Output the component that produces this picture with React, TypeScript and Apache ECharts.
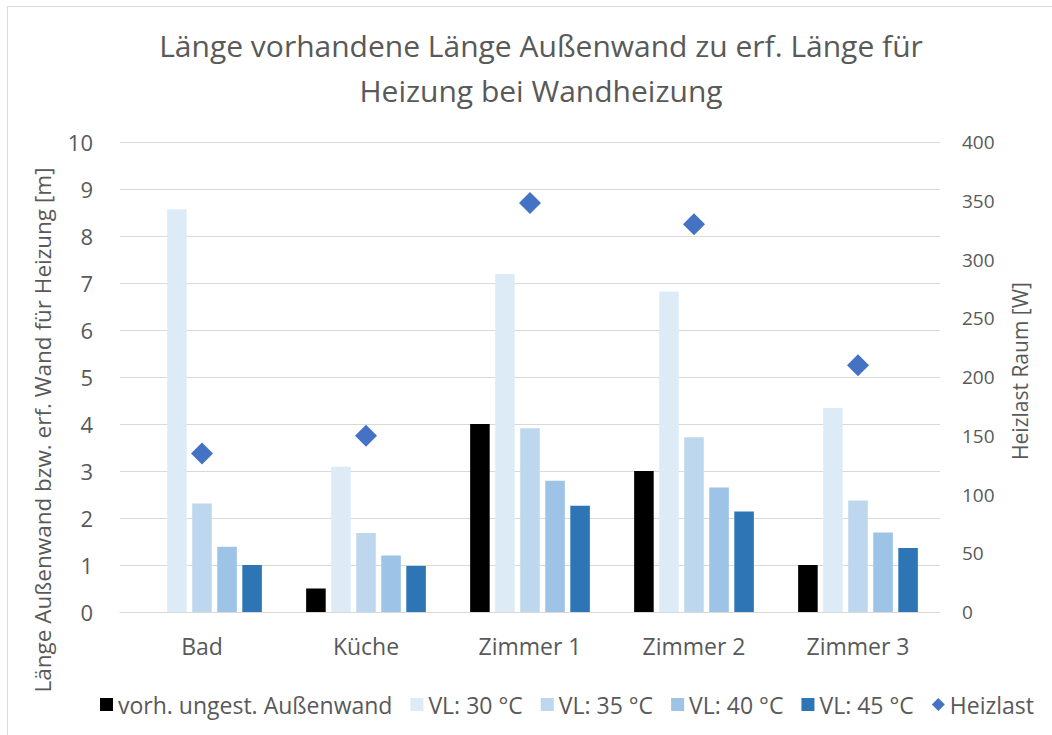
import React, { useEffect, useRef } from "react";
import * as echarts from "echarts";

const categories = ["Bad", "Küche", "Zimmer 1", "Zimmer 2", "Zimmer 3"];
const vorhAussenwand = [0, 0.5, 4, 3, 1];
const vl30 = [8.57, 3.09, 7.19, 6.82, 4.34];
const vl35 = [2.31, 1.68, 3.91, 3.72, 2.37];
const vl40 = [1.39, 1.2, 2.79, 2.65, 1.69];
const vl45 = [1.0, 0.98, 2.26, 2.14, 1.36];
const heizlast = [135, 150, 348, 330, 210];
const leftTicks = { min: 0, max: 10, interval: 1 };
const rightTicks = { min: 0, max: 400, interval: 50 };

const FONT = "Open Sans";
const GREY = "#595959";

export default function App() {
  const ref = useRef<HTMLDivElement>(null);
  useEffect(() => {
    if (!ref.current) return;
    const chart = echarts.init(ref.current, undefined, { renderer: "svg" });
    const barNames = [
      "vorh. ungest. Außenwand",
      "VL: 30 °C",
      "VL: 35 °C",
      "VL: 40 °C",
      "VL: 45 °C",
    ];
    const barData = [vorhAussenwand, vl30, vl35, vl40, vl45];
    const barColors = ["#000000", "#DDEBF7", "#BDD7EE", "#9DC3E6", "#2E75B6"];
    chart.setOption({
      animation: false,
      backgroundColor: "#ffffff",
      textStyle: { fontFamily: FONT, color: GREY },
      title: {
        text: "Länge vorhandene Länge Außenwand zu erf. Länge für\nHeizung bei Wandheizung",
        left: 536,
        textAlign: "center",
        top: 18,
        textStyle: {
          fontFamily: FONT,
          fontSize: 30,
          fontWeight: "normal",
          color: GREY,
          lineHeight: 45,
        },
      },
      grid: { left: 120, right: 112, top: 142, bottom: 123, containLabel: false },
      legend: {
        bottom: 14,
        left: 95,
        itemWidth: 13,
        itemHeight: 13,
        itemGap: 18,
        textStyle: { fontFamily: FONT, fontSize: 23, color: GREY },
        data: [
          ...barNames.map((n) => ({ name: n, icon: "rect" })),
          { name: "Heizlast", icon: "diamond" },
        ],
      },
      xAxis: {
        type: "category",
        data: categories,
        axisTick: { show: false },
        axisLine: { lineStyle: { color: "#D9D9D9", width: 1 } },
        axisLabel: { fontFamily: FONT, fontSize: 23, color: GREY, margin: 22 },
      },
      yAxis: [
        {
          type: "value",
          min: leftTicks.min,
          max: leftTicks.max,
          interval: leftTicks.interval,
          axisLabel: { fontFamily: FONT, fontSize: 22, color: GREY, margin: 27 },
          splitLine: { lineStyle: { color: "#D9D9D9", width: 1 } },
          axisLine: { show: false },
          axisTick: { show: false },
        },
        {
          type: "value",
          min: rightTicks.min,
          max: rightTicks.max,
          interval: rightTicks.interval,
          position: "right",
          axisLabel: { fontFamily: FONT, fontSize: 19, color: GREY, margin: 22 },
          splitLine: { show: false },
          axisLine: { show: false },
          axisTick: { show: false },
        },
      ],
      series: [
        ...barNames.map((n, i) => ({
          name: n,
          type: "bar",
          yAxisIndex: 0,
          data: barData[i],
          itemStyle: { color: barColors[i] },
          barGap: "28%",
          barCategoryGap: "27%",
        })),
        {
          name: "Heizlast",
          type: "scatter",
          yAxisIndex: 1,
          data: heizlast,
          symbol: "diamond",
          symbolSize: [22, 22],
          itemStyle: { color: "#4472C4", opacity: 1 },
          z: 5,
        },
      ],
      graphic: [
        {
          type: "rect",
          shape: { x: 7.5, y: 6.5, width: 1200, height: 900 },
          style: { fill: "none", stroke: "#D9D9D9", lineWidth: 1 },
          silent: true,
        },
        {
          type: "text",
          x: 42,
          y: 430,
          rotation: Math.PI / 2,
          style: {
            text: "Länge Außenwand bzw. erf. Wand für Heizung [m]",
            fontFamily: FONT,
            fontSize: 22.5,
            fill: GREY,
            align: "center",
            verticalAlign: "middle",
          },
        },
        {
          type: "text",
          x: 1020,
          y: 371,
          rotation: Math.PI / 2,
          style: {
            text: "Heizlast Raum [W]",
            fontFamily: FONT,
            fontSize: 21,
            fill: GREY,
            align: "center",
            verticalAlign: "middle",
          },
        },
      ],
    });
    return () => chart.dispose();
  }, []);
  return (
    <div
      ref={ref}
      style={{ position: "absolute", left: 0, top: 0, width: 1052, height: 735 }}
    />
  );
}
